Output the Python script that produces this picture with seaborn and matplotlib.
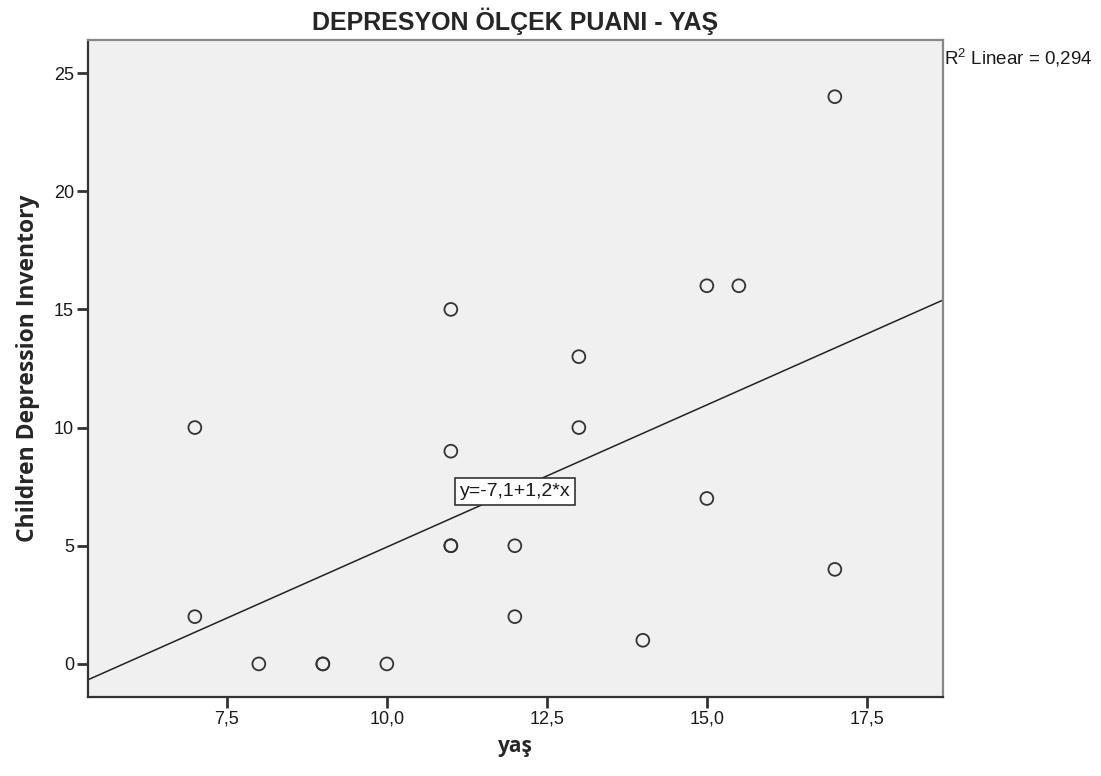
import numpy as np
import pandas as pd
import matplotlib
matplotlib.use("Agg")
import matplotlib.pyplot as plt
import seaborn as sns

# data
age = [7, 7, 8, 9, 9, 10, 11, 11, 11, 11, 12, 12, 13, 13, 14, 15, 15.5, 15, 17, 17]
cdi = [10, 2, 0, 0, 0, 0, 15, 9, 5, 5, 5, 2, 13, 10, 1, 16, 16, 7, 24, 4]
x_ticks = [7.5, 10.0, 12.5, 15.0, 17.5]
y_ticks = [0, 5, 10, 15, 20, 25]
title = "DEPRESYON ÖLÇEK PUANI - YAŞ"
eq_label = "y=-7,1+1,2*x"
r2_label = "R$^2$ Linear = 0,294"

df = pd.DataFrame({"yaş": age, "cdi": cdi})

sns.set_theme(style="white")
plt.rcParams['font.family'] = ['Liberation Sans', 'DejaVu Sans']
plt.rcParams['mathtext.fontset'] = 'custom'
plt.rcParams['mathtext.rm'] = 'Liberation Sans'

fig = plt.figure(figsize=(11.01, 7.76), dpi=100)
ax = fig.add_axes([0.0799, 0.1018, 0.7766, 0.8467])
ax.set_facecolor("#f0f0f0")
ax.set_xlim(5.33, 18.69)
ax.set_ylim(-1.4, 26.4)

sns.scatterplot(data=df, x="yaş", y="cdi", ax=ax, s=85, marker="o",
                facecolor="none", edgecolor="#333333", linewidth=1.3, zorder=3)
sns.regplot(data=df, x="yaş", y="cdi", ax=ax, scatter=False, ci=None,
            truncate=False, line_kws=dict(color="#222222", lw=1.1, zorder=2))
ax.set_xlim(5.33, 18.69)
ax.set_ylim(-1.4, 26.4)

ax.set_xticks(x_ticks)
ax.set_xticklabels([f"{v:.1f}".replace(".", ",") for v in x_ticks])
ax.set_yticks(y_ticks)
ax.set_yticklabels([str(v) for v in y_ticks])
ax.tick_params(axis="both", direction="out", length=8, width=2, color="#333333",
               labelsize=13, labelcolor="#1a1a1a", pad=2, bottom=True, left=True)

for side in ["left", "bottom"]:
    ax.spines[side].set_color("#333333")
    ax.spines[side].set_linewidth(1.6)
for side in ["top", "right"]:
    ax.spines[side].set_color("#888888")
    ax.spines[side].set_linewidth(1.6)

ax.set_xlabel("yaş", fontsize=15, fontweight="bold", family=["Open Sans", "DejaVu Sans"],
              labelpad=6)
ax.set_ylabel("Children Depression Inventory", fontsize=16.5, fontweight="bold",
              family=["Open Sans", "DejaVu Sans"], labelpad=10)
ax.set_title(title, fontsize=18, fontweight="bold", pad=7)

ax.text(12.0, 7.3, eq_label, ha="center", va="center", fontsize=14, color="#1a1a1a",
        bbox=dict(boxstyle="square,pad=0.25", facecolor="white", edgecolor="#333333", lw=1.2),
        zorder=4)
fig.text(0.857, 0.926, r2_label, ha="left", va="center", fontsize=13.5, color="#1a1a1a")

fig.savefig("out.png", dpi=100)
